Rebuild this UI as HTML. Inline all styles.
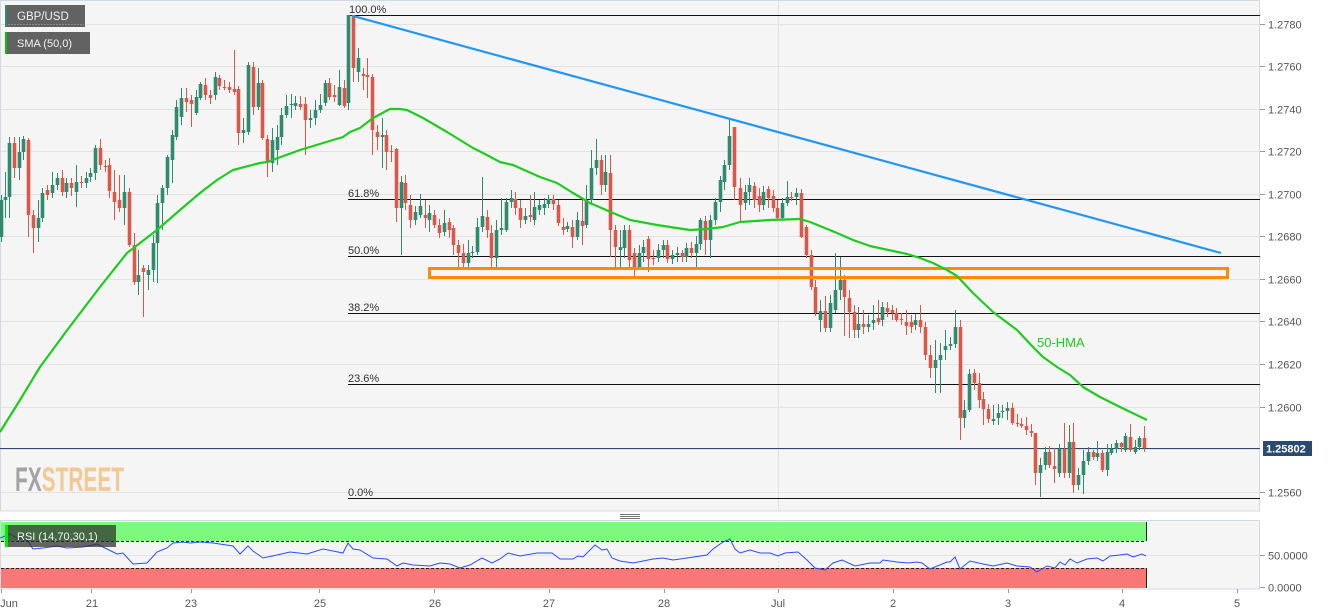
<!DOCTYPE html>
<html><head><meta charset="utf-8">
<style>
html,body{margin:0;padding:0;background:#fff;width:1331px;height:615px;overflow:hidden;}
svg{display:block;font-family:"Liberation Sans",Arial,sans-serif;}
</style></head>
<body>
<svg id="c" width="1331" height="615" viewBox="0 0 1331 615" xmlns="http://www.w3.org/2000/svg">
<rect x="0" y="0" width="1331" height="615" fill="#fff"/>
<rect x="0.5" y="0.5" width="1259" height="510.5" fill="#f5f5f5" stroke="#d3d9e3"/>
<rect x="0.5" y="520.5" width="1259" height="68.5" fill="#f5f5f5" stroke="#d3d9e3"/>
<g stroke="#e2e2e2" stroke-width="1">
<line x1="1" y1="24.5" x2="1259" y2="24.5"/>
<line x1="1" y1="66.5" x2="1259" y2="66.5"/>
<line x1="1" y1="109.5" x2="1259" y2="109.5"/>
<line x1="1" y1="151.5" x2="1259" y2="151.5"/>
<line x1="1" y1="194.5" x2="1259" y2="194.5"/>
<line x1="1" y1="236.5" x2="1259" y2="236.5"/>
<line x1="1" y1="279.5" x2="1259" y2="279.5"/>
<line x1="1" y1="321.5" x2="1259" y2="321.5"/>
<line x1="1" y1="364.5" x2="1259" y2="364.5"/>
<line x1="1" y1="407.5" x2="1259" y2="407.5"/>
<line x1="1" y1="449.5" x2="1259" y2="449.5"/>
<line x1="1" y1="492.5" x2="1259" y2="492.5"/>
<line x1="778.5" y1="1" x2="778.5" y2="510"/>
<line x1="1" y1="555.5" x2="1259" y2="555.5"/>
<line x1="778.5" y1="521" x2="778.5" y2="589" stroke-dasharray="2,2"/>
</g>
<!-- FXSTREET logo -->
<text x="15" y="491" font-size="34" font-weight="bold" textLength="109" lengthAdjust="spacingAndGlyphs"><tspan fill="#a3a3a3">FX</tspan><tspan fill="#f2c893">STREET</tspan></text>
<!-- fib lines -->
<g stroke="#111" stroke-width="1">
<line x1="348" y1="15.5" x2="1260" y2="15.5"/>
<line x1="348" y1="199.5" x2="1260" y2="199.5"/>
<line x1="348" y1="256.5" x2="1260" y2="256.5"/>
<line x1="348" y1="313.5" x2="1260" y2="313.5"/>
<line x1="348" y1="384.5" x2="1260" y2="384.5"/>
<line x1="348" y1="498.5" x2="1260" y2="498.5"/>
</g>
<g font-size="11" fill="#333">
<text x="349" y="13">100.0%</text>
<text x="348" y="197">61.8%</text>
<text x="348" y="254">50.0%</text>
<text x="348" y="311">38.2%</text>
<text x="348" y="382">23.6%</text>
<text x="348" y="496">0.0%</text>
</g>
<!-- current price line -->
<line x1="0" y1="448.5" x2="1260" y2="448.5" stroke="#2b4a70" stroke-width="1"/>
<g id="cd"></g>
<!-- orange zone -->
<rect x="429.5" y="268.5" width="798" height="9" fill="none" stroke="#ff8c00" stroke-width="3"/>
<!-- trendline -->
<line x1="353" y1="16" x2="1221" y2="253" stroke="#2196f3" stroke-width="2.2"/>
<!-- HMA -->
<polyline fill="none" stroke="#1ecb1e" stroke-width="2.2" stroke-linejoin="round" points="0,432 20,400 40,367 68,329 100,287 127,253 157,230 180,210 200,193 217,180 233,170 260,163 267,162 300,150 333,140 343,137 350,132 360,128 373,118 390,109 400,109 407,110 423,118 447,132 473,148 483,153 500,162 513,165 540,177 557,183 573,193 590,203 613,213 630,220 657,225 690,230 707,229 723,227 740,222 770,220 800,219 810,222 820,226 837,233 853,240 870,246 893,251 907,254 920,258 933,263 947,270 957,276 973,293 993,312 1017,330 1033,347 1043,357 1057,367 1070,375 1083,387 1100,397 1120,407 1147,420"/>
<text x="1037" y="347" font-size="13" fill="#1ecb1e">50-HMA</text>
<!-- legend boxes -->
<rect x="5" y="5" width="80" height="22" fill="#626262"/>
<rect x="5" y="5" width="2" height="22" fill="#2f8a6e"/>
<text x="17" y="20" font-size="11.5" fill="#f2f2f2">GBP/USD</text>
<line x1="8" y1="24.5" x2="84" y2="24.5" stroke="#8a8a8a" stroke-dasharray="2,1"/>
<rect x="5" y="32" width="85" height="22" fill="#626262"/>
<rect x="5" y="32" width="2" height="22" fill="#00c800"/>
<text x="17" y="47" font-size="11" fill="#f2f2f2">SMA (50,0)</text>
<!-- price axis -->
<g stroke="#999" stroke-width="1">
<line x1="1260" y1="24.5" x2="1265" y2="24.5"/>
<line x1="1260" y1="66.5" x2="1265" y2="66.5"/>
<line x1="1260" y1="109.5" x2="1265" y2="109.5"/>
<line x1="1260" y1="151.5" x2="1265" y2="151.5"/>
<line x1="1260" y1="194.5" x2="1265" y2="194.5"/>
<line x1="1260" y1="236.5" x2="1265" y2="236.5"/>
<line x1="1260" y1="279.5" x2="1265" y2="279.5"/>
<line x1="1260" y1="321.5" x2="1265" y2="321.5"/>
<line x1="1260" y1="364.5" x2="1265" y2="364.5"/>
<line x1="1260" y1="407.5" x2="1265" y2="407.5"/>
<line x1="1260" y1="492.5" x2="1265" y2="492.5"/>
<line x1="1260" y1="555.5" x2="1265" y2="555.5"/>
<line x1="1260" y1="587.5" x2="1265" y2="587.5"/>
</g>
<g font-size="11" fill="#555">
<text x="1268" y="28.5">1.2780</text>
<text x="1268" y="70.5">1.2760</text>
<text x="1268" y="113.5">1.2740</text>
<text x="1268" y="155.5">1.2720</text>
<text x="1268" y="198.5">1.2700</text>
<text x="1268" y="240.5">1.2680</text>
<text x="1268" y="283.5">1.2660</text>
<text x="1268" y="325.5">1.2640</text>
<text x="1268" y="368.5">1.2620</text>
<text x="1268" y="411.5">1.2600</text>
<text x="1268" y="496.5">1.2560</text>
<text x="1268" y="559.5">50.0000</text>
<text x="1268" y="591.5">0.0000</text>
</g>
<rect x="1263" y="441" width="49" height="15" fill="#2b4a70"/>
<text x="1266" y="452.5" font-size="11" font-weight="bold" fill="#fff">1.25802</text>
<!-- separator handle -->
<g stroke="#777" stroke-width="1">
<line x1="620" y1="514.5" x2="640" y2="514.5"/>
<line x1="620" y1="516.5" x2="640" y2="516.5"/>
<line x1="620" y1="518.5" x2="640" y2="518.5"/>
</g>
<!-- RSI panel -->
<rect x="1" y="522" width="1145" height="19" fill="#7dfa7d"/>
<rect x="1" y="568" width="1145" height="20" fill="#f87878"/>
<line x1="1146.5" y1="522" x2="1146.5" y2="541" stroke="#222"/>
<line x1="1146.5" y1="568" x2="1146.5" y2="588" stroke="#222"/>
<line x1="1" y1="541.5" x2="1146" y2="541.5" stroke="#222" stroke-dasharray="3,2"/>
<line x1="1" y1="568.5" x2="1146" y2="568.5" stroke="#222" stroke-dasharray="3,2"/>
<polyline fill="none" stroke="#2a4dff" stroke-width="1" points="0,538 10,534 17,538 27,540 33,549 43,548 57,546 67,548 83,547 97,544 107,549 117,554 123,553 133,564 147,563 157,552 167,548 173,543 183,542 190,543 200,542 213,543 233,546 240,554 248,546 253,551 263,558 277,555 290,552 307,554 323,549 333,551 343,553 348,543 353,549 360,550 373,558 387,559 397,566 403,563 413,565 430,566 440,563 450,564 460,568 470,565 482,558 492,563 500,559 508,553 520,556 537,553 552,553 560,559 573,559 578,556 583,557 595,545 602,550 607,549 612,558 620,561 633,563 653,559 663,558 673,560 687,558 707,555 713,549 723,542 730,539 735,549 740,553 750,550 760,553 770,553 778,556 785,553 798,552 807,560 815,568 825,570 833,563 842,560 855,566 870,563 880,563 883,560 897,562 908,563 917,562 922,563 930,569 947,562 950,562 955,557 960,569 970,561 983,564 993,566 1007,563 1017,566 1030,567 1037,572 1047,566 1055,568 1060,562 1065,565 1070,559 1077,563 1087,559 1097,558 1103,561 1110,556 1120,555 1127,554 1133,557 1142,554 1146,556"/>
<rect x="5" y="525" width="111" height="22" fill="rgba(45,45,45,0.72)"/>
<rect x="5" y="525" width="3" height="22" fill="#00ee00"/>
<text x="17" y="540" font-size="11" fill="#f2f2f2">RSI (14,70,30,1)</text>
<!-- x axis -->
<g stroke="#999" stroke-width="1">
<line x1="1.5" y1="589" x2="1.5" y2="593"/>
<line x1="91.5" y1="589" x2="91.5" y2="593"/>
<line x1="191.5" y1="589" x2="191.5" y2="593"/>
<line x1="319.5" y1="589" x2="319.5" y2="593"/>
<line x1="434.5" y1="589" x2="434.5" y2="593"/>
<line x1="549.5" y1="589" x2="549.5" y2="593"/>
<line x1="664.5" y1="589" x2="664.5" y2="593"/>
<line x1="778.5" y1="589" x2="778.5" y2="593"/>
<line x1="893.5" y1="589" x2="893.5" y2="593"/>
<line x1="1008.5" y1="589" x2="1008.5" y2="593"/>
<line x1="1122.5" y1="589" x2="1122.5" y2="593"/>
<line x1="1237.5" y1="589" x2="1237.5" y2="593"/>
</g>
<g font-size="11" fill="#555" text-anchor="middle">
<text x="9" y="607">Jun</text>
<text x="92" y="607">21</text>
<text x="191" y="607">23</text>
<text x="320" y="607">25</text>
<text x="435" y="607">26</text>
<text x="549" y="607">27</text>
<text x="664" y="607">28</text>
<text x="778" y="607">Jul</text>
<text x="893" y="607">2</text>
<text x="1008" y="607">3</text>
<text x="1122" y="607">4</text>
<text x="1237" y="607">5</text>
</g>
</svg>
<script>
(function(){
var D=[
[1,1,200,237,195,242],[5,1,197,200,172,218],[9,1,143,197,137,218],[14,0,143,168,137,178],[19,1,152,168,137,180],[23,1,139,152,136,160],[28,0,140,215,138,237],[33,0,215,228,210,253],[38,1,218,228,200,242],[42,1,193,218,188,222],[47,0,190,195,185,200],[52,1,185,193,172,198],[57,1,178,185,173,190],[62,0,178,192,170,196],[66,1,183,192,178,198],[71,0,183,188,178,196],[76,1,182,192,165,207],[81,0,182,183,176,188],[86,1,178,183,172,188],[90,1,173,177,168,182],[95,1,148,173,145,180],[100,0,148,165,139,170],[105,0,166,167,160,172],[109,0,165,191,158,198],[114,0,192,202,170,220],[119,0,200,208,175,212],[124,1,192,208,175,225],[129,0,192,245,188,247],[134,0,245,282,233,285],[138,1,275,282,250,295],[143,0,268,272,265,317],[148,1,270,275,265,290],[153,1,243,270,235,282],[157,1,203,243,195,283],[162,1,188,203,185,230],[167,1,157,188,155,195],[172,1,135,160,130,183],[176,1,107,137,100,140],[181,1,98,117,88,125],[186,0,98,102,88,112],[191,0,100,104,95,127],[196,1,97,113,90,115],[200,1,84,98,82,100],[205,0,85,95,78,100],[210,0,95,98,90,104],[215,1,77,95,72,100],[219,0,78,86,75,90],[224,0,87,88,80,90],[229,0,87,90,82,93],[234,0,89,92,50,95],[238,0,89,133,86,145],[243,1,130,133,118,143],[248,1,65,132,62,135],[253,0,67,107,62,115],[258,1,83,107,68,110],[262,0,83,138,80,140],[267,0,139,163,135,177],[272,1,140,163,128,172],[277,1,137,150,125,165],[281,1,115,137,108,145],[286,1,106,115,95,118],[291,1,104,105,94,118],[295,1,103,106,96,110],[300,0,104,107,96,110],[305,0,104,120,97,155],[310,1,118,120,110,128],[315,1,110,118,100,125],[320,1,105,110,94,113],[325,1,83,103,80,106],[329,0,83,97,78,100],[334,0,95,97,85,102],[339,1,87,105,70,106],[344,0,88,106,80,108],[348,1,15,103,15,110],[353,0,15,68,15,82],[358,1,58,72,48,82],[363,0,74,76,68,90],[367,0,75,77,58,98],[372,0,77,130,74,155],[377,0,132,137,125,150],[382,1,135,137,118,168],[386,0,135,152,130,170],[391,0,151,152,145,162],[396,0,149,208,148,222],[401,1,182,208,176,255],[405,0,183,203,175,210],[410,0,205,220,195,228],[415,1,212,220,206,225],[420,1,206,215,194,218],[425,0,215,218,200,228],[429,1,213,220,205,232],[434,0,215,225,210,228],[439,0,225,233,219,238],[444,1,223,232,210,236],[449,0,222,230,218,238],[453,0,228,245,225,255],[458,0,245,253,240,268],[463,0,253,263,244,267],[468,1,253,263,240,270],[472,1,252,253,246,258],[477,1,227,252,218,255],[482,1,216,227,177,232],[487,0,217,230,210,238],[491,0,233,258,225,268],[496,1,230,258,220,268],[501,1,228,230,198,235],[506,1,202,230,198,232],[511,1,198,202,190,208],[515,0,199,208,192,215],[520,0,208,220,200,228],[525,1,216,220,208,224],[530,0,215,217,195,222],[534,1,207,220,192,225],[539,1,205,210,200,215],[544,1,204,208,198,215],[548,1,199,204,195,208],[553,0,199,204,195,210],[558,0,205,223,200,226],[563,0,227,230,218,235],[567,1,226,229,222,232],[572,0,227,237,220,248],[577,1,220,237,212,240],[582,0,221,226,200,245],[586,1,200,225,185,228],[591,1,168,200,150,205],[596,1,160,168,139,175],[601,0,160,185,155,195],[605,1,172,185,155,192],[610,0,173,230,155,257],[615,0,230,247,225,268],[620,1,247,250,230,270],[624,1,230,248,225,258],[629,0,230,260,225,268],[634,0,253,267,248,276],[639,1,253,267,245,270],[643,1,247,253,240,262],[648,0,239,259,236,272],[653,0,258,259,250,265],[658,1,250,258,244,262],[663,1,245,250,240,258],[667,0,245,259,240,263],[672,1,255,259,250,264],[677,1,253,255,247,262],[682,0,253,257,250,262],[686,1,248,257,243,262],[691,0,248,253,242,258],[696,1,244,253,236,268],[700,1,220,244,218,250],[705,0,221,240,216,255],[710,1,220,240,215,258],[715,1,202,220,198,225],[720,1,180,202,176,212],[724,1,165,182,160,190],[729,1,136,165,118,170],[734,0,127,187,127,200],[740,0,188,205,178,222],[745,1,192,203,185,210],[749,1,185,192,178,205],[754,0,186,200,182,208],[759,0,196,205,188,212],[763,1,192,205,186,210],[768,0,189,198,186,208],[773,0,196,208,190,212],[777,0,208,218,200,220],[782,1,203,218,198,220],[787,1,197,203,181,206],[791,0,197,198,192,201],[796,1,193,197,188,205],[801,0,193,237,189,238],[806,0,227,255,225,258],[811,0,255,287,250,290],[815,0,287,313,280,316],[820,1,311,320,300,332],[825,0,311,328,296,332],[830,1,303,328,295,332],[835,1,290,310,253,313],[840,1,280,290,257,300],[844,0,280,297,275,336],[849,0,298,312,290,338],[854,0,312,330,305,338],[858,1,324,330,307,338],[863,0,324,327,310,334],[868,1,324,327,315,332],[873,1,320,323,305,330],[878,0,318,322,300,325],[882,1,307,320,302,326],[887,0,308,312,302,317],[892,0,310,313,305,320],[896,0,313,320,308,322],[901,0,319,320,313,325],[906,0,322,326,310,335],[911,0,322,327,315,333],[915,1,320,325,314,330],[920,0,320,327,305,333],[925,0,327,355,322,360],[930,0,355,368,345,378],[935,1,360,368,340,393],[940,1,355,360,343,393],[945,1,346,350,330,360],[950,1,344,346,337,350],[955,1,327,344,310,348],[960,0,327,418,320,440],[964,1,410,418,400,428],[969,1,374,410,369,412],[974,0,373,383,369,390],[979,0,383,400,373,408],[983,0,399,409,392,425],[988,0,409,419,404,423],[993,1,419,421,405,425],[998,1,413,418,404,425],[1002,1,411,412,405,418],[1007,1,408,411,402,420],[1012,0,408,423,403,425],[1017,0,423,424,414,427],[1021,0,424,426,418,428],[1026,0,426,430,417,435],[1031,0,431,433,424,437],[1035,0,433,473,433,485],[1040,1,465,473,458,497],[1045,1,452,465,447,470],[1049,0,452,465,446,468],[1054,0,466,469,448,483],[1059,1,449,473,444,477],[1064,0,449,473,423,478],[1069,1,442,473,425,478],[1073,0,442,485,423,493],[1078,1,475,485,468,490],[1083,1,461,475,450,494],[1088,1,452,461,447,465],[1093,0,452,457,450,460],[1097,1,453,457,441,461],[1102,0,453,470,450,472],[1107,1,452,470,444,476],[1111,1,449,453,444,455],[1116,1,443,449,440,453],[1121,0,443,447,442,452],[1125,1,436,450,433,452],[1130,0,437,450,424,452],[1135,1,447,452,440,454],[1139,1,438,447,436,450],[1144,0,438,448,426,452]
];
var NS="http://www.w3.org/2000/svg";
var g=document.getElementById('cd');
for(var i=0;i<D.length;i++){
var d=D[i],x=d[0],col=d[1]?'#2f8a6e':'#d9584a',a=d[2],b=d[3];
if(b-a<1)b=a+1;
var l=document.createElementNS(NS,'line');
l.setAttribute('x1',x+0.5);l.setAttribute('x2',x+0.5);
l.setAttribute('y1',d[4]);l.setAttribute('y2',d[5]);
l.setAttribute('stroke',col);l.setAttribute('stroke-width','1');
g.appendChild(l);
var r=document.createElementNS(NS,'rect');
r.setAttribute('x',x-1.3);r.setAttribute('y',a);
r.setAttribute('width','3.6');r.setAttribute('height',b-a);
r.setAttribute('fill',col);
g.appendChild(r);
}
})();
</script>
</body></html>
